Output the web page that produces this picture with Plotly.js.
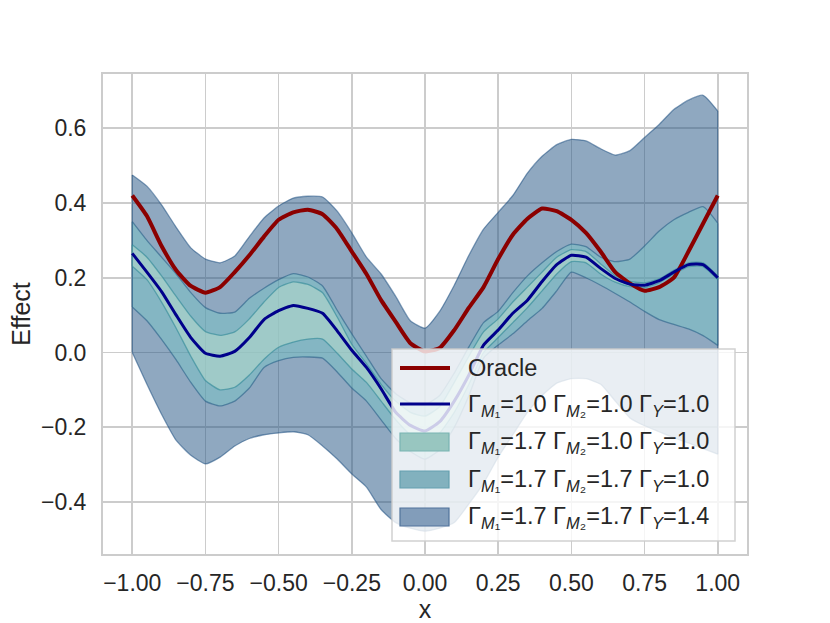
<!DOCTYPE html>
<html>
<head>
<meta charset="utf-8">
<script src="https://cdn.plot.ly/plotly-3.0.1.min.js"></script>
<style>
  html, body { margin: 0; padding: 0; background: #fff; }
  #chart { width: 830px; height: 623px; }
</style>
</head>
<body>
<div id="chart"></div>
<script>
// x grid of the curves
const xs = [-1.00,-0.95,-0.90,-0.85,-0.80,-0.75,-0.70,-0.65,-0.60,-0.55,-0.50,-0.45,-0.40,-0.35,-0.30,-0.25,-0.20,-0.15,-0.10,-0.05,
  0.00,0.05,0.10,0.15,0.20,0.25,0.30,0.35,0.40,0.45,0.50,0.55,0.60,0.65,0.70,0.75,0.80,0.85,0.90,0.95,1.00];

const oracle = [0.42,0.365,0.285,0.22,0.178,0.16,0.175,0.215,0.26,0.31,0.355,0.375,0.382,0.37,0.33,0.27,0.21,0.14,0.082,0.025,
  0.003,0.012,0.06,0.12,0.175,0.25,0.315,0.358,0.385,0.378,0.355,0.32,0.27,0.215,0.185,0.165,0.175,0.20,0.27,0.345,0.42];

// Gamma_M1=1.0 Gamma_M2=1.0 Gamma_Y=1.0
const base = [0.265,0.215,0.163,0.10,0.04,-0.002,-0.01,0.003,0.04,0.088,0.112,0.126,0.118,0.105,0.058,0.006,-0.04,-0.097,-0.16,-0.195,
  -0.21,-0.185,-0.13,-0.06,0.02,0.06,0.105,0.14,0.19,0.235,0.26,0.255,0.225,0.198,0.183,0.18,0.192,0.215,0.235,0.235,0.20];

// Gamma_M1=1.7 Gamma_M2=1.0 Gamma_Y=1.0
const band1Upper = [0.288,0.255,0.205,0.15,0.097,0.056,0.046,0.055,0.09,0.135,0.174,0.189,0.182,0.16,0.095,0.022,-0.03,-0.085,-0.13,-0.16,
  -0.17,-0.145,-0.08,-0.01,0.055,0.09,0.135,0.175,0.215,0.255,0.275,0.27,0.237,0.205,0.19,0.186,0.197,0.22,0.24,0.24,0.205];
const band1Lower = [0.231,0.195,0.135,0.065,-0.01,-0.075,-0.10,-0.093,-0.06,-0.018,0.014,0.028,0.036,0.036,-0.002,-0.044,-0.08,-0.13,-0.18,-0.22,
  -0.235,-0.215,-0.16,-0.085,0.0,0.04,0.08,0.12,0.165,0.21,0.243,0.24,0.21,0.188,0.176,0.174,0.187,0.21,0.23,0.23,0.195];

// Gamma_M1=1.7 Gamma_M2=1.7 Gamma_Y=1.0
const band2Upper = [0.35,0.30,0.255,0.21,0.16,0.12,0.105,0.108,0.145,0.172,0.195,0.211,0.202,0.178,0.113,0.05,-0.01,-0.07,-0.11,-0.135,
  -0.14,-0.115,-0.055,0.015,0.08,0.11,0.16,0.205,0.24,0.27,0.29,0.283,0.255,0.243,0.25,0.285,0.325,0.355,0.375,0.39,0.346];
const band2Lower = [0.122,0.085,0.035,-0.02,-0.08,-0.13,-0.143,-0.13,-0.095,-0.04,-0.022,-0.013,-0.012,-0.015,-0.052,-0.095,-0.13,-0.18,-0.23,-0.265,
  -0.285,-0.26,-0.20,-0.115,-0.015,0.02,0.05,0.085,0.118,0.165,0.215,0.20,0.18,0.158,0.135,0.11,0.088,0.075,0.063,0.045,0.019];

// Gamma_M1=1.7 Gamma_M2=1.7 Gamma_Y=1.4
const band3Upper = [0.475,0.445,0.395,0.335,0.28,0.25,0.24,0.258,0.31,0.36,0.392,0.413,0.418,0.416,0.378,0.32,0.255,0.21,0.15,0.085,
  0.065,0.11,0.18,0.26,0.33,0.375,0.42,0.48,0.525,0.556,0.57,0.566,0.545,0.528,0.54,0.575,0.61,0.65,0.675,0.688,0.646];
const band3Lower = [0.0,-0.085,-0.165,-0.235,-0.275,-0.298,-0.28,-0.25,-0.23,-0.22,-0.215,-0.212,-0.22,-0.25,-0.285,-0.325,-0.36,-0.42,-0.455,-0.47,
  -0.478,-0.47,-0.455,-0.405,-0.35,-0.28,-0.22,-0.16,-0.115,-0.082,-0.07,-0.07,-0.085,-0.13,-0.175,-0.196,-0.212,-0.228,-0.242,-0.257,-0.272];

const xTicks = [-1.0,-0.75,-0.5,-0.25,0.0,0.25,0.5,0.75,1.0];
const yTicks = [-0.4,-0.2,0.0,0.2,0.4,0.6];

const legendLabels = [
  'Oracle',
  'Γ<sub><i>M</i>₁</sub>=1.0 Γ<sub><i>M</i>₂</sub>=1.0 Γ<sub><i>Y</i></sub>=1.0',
  'Γ<sub><i>M</i>₁</sub>=1.7 Γ<sub><i>M</i>₂</sub>=1.0 Γ<sub><i>Y</i></sub>=1.0',
  'Γ<sub><i>M</i>₁</sub>=1.7 Γ<sub><i>M</i>₂</sub>=1.7 Γ<sub><i>Y</i></sub>=1.0',
  'Γ<sub><i>M</i>₁</sub>=1.7 Γ<sub><i>M</i>₂</sub>=1.7 Γ<sub><i>Y</i></sub>=1.4'
];

const RED = '#8b0000';
const BLUE = '#00008b';
const FONT = '"Liberation Sans", Arial, sans-serif';
const TEXT = '#262626';
const SMOOTH = 0.5;

// lower edge, then upper edge filled down to it
function band(lower, upper, fill, edge){
  const ln = {color: edge, width: 1.3, shape: 'spline', smoothing: SMOOTH};
  return [
    {x: xs, y: lower, type: 'scatter', mode: 'lines', line: ln, hoverinfo: 'skip', showlegend: false},
    {x: xs, y: upper, type: 'scatter', mode: 'lines', line: ln, fill: 'tonexty', fillcolor: fill,
     hoverinfo: 'skip', showlegend: false},
    // closing edges at both ends
    {x: [xs[0], xs[0], null, xs[xs.length - 1], xs[xs.length - 1]],
     y: [lower[0], upper[0], null, lower[lower.length - 1], upper[upper.length - 1]],
     type: 'scatter', mode: 'lines', line: {color: edge, width: 1.3}, hoverinfo: 'skip', showlegend: false}
  ];
}

const traces = [].concat(
  band(band3Lower, band3Upper, 'rgba(31,81,129,0.5)', 'rgba(31,81,129,0.55)'),
  band(band2Lower, band2Upper, 'rgba(120,200,200,0.45)', 'rgba(40,95,135,0.6)'),
  band(band1Lower, band1Upper, 'rgba(185,222,205,0.5)', 'rgba(45,135,150,0.6)'),
  [
    {x: xs, y: oracle, type: 'scatter', mode: 'lines', line: {color: RED, width: 4, shape: 'spline', smoothing: SMOOTH}, showlegend: false},
    {x: xs, y: base, type: 'scatter', mode: 'lines', line: {color: BLUE, width: 3, shape: 'spline', smoothing: SMOOTH}, showlegend: false}
  ]
);

// plot area in pixels
const L = 103, T = 74, W = 644, H = 480;
const fx = px => (px - L) / W;
const fy = py => (T + H - py) / H;

// hand-built legend, matplotlib style
const shapes = [
  {type: 'rect', xref: 'paper', yref: 'paper', layer: 'above',
   x0: fx(392), x1: fx(735), y0: fy(541), y1: fy(349),
   fillcolor: 'rgba(255,255,255,0.8)', line: {color: 'rgba(204,204,204,0.9)', width: 1.5}},
  {type: 'line', xref: 'paper', yref: 'paper', layer: 'above',
   x0: fx(400), x1: fx(450), y0: fy(368), y1: fy(368), line: {color: RED, width: 4}},
  {type: 'line', xref: 'paper', yref: 'paper', layer: 'above',
   x0: fx(400), x1: fx(450), y0: fy(404), y1: fy(404), line: {color: BLUE, width: 3}},
  {type: 'rect', xref: 'paper', yref: 'paper', layer: 'above',
   x0: fx(400), x1: fx(449), y0: fy(451), y1: fy(433),
   fillcolor: 'rgb(152,198,192)', line: {color: 'rgb(120,180,178)', width: 1.2}},
  {type: 'rect', xref: 'paper', yref: 'paper', layer: 'above',
   x0: fx(400), x1: fx(449), y0: fy(488), y1: fy(471),
   fillcolor: 'rgb(130,177,190)', line: {color: 'rgb(100,160,175)', width: 1.2}},
  {type: 'rect', xref: 'paper', yref: 'paper', layer: 'above',
   x0: fx(400), x1: fx(449), y0: fy(526), y1: fy(508),
   fillcolor: 'rgb(130,157,186)', line: {color: 'rgb(80,115,155)', width: 1.2}}
];

const rowY = [368, 405, 442, 480, 517];
const annotations = legendLabels.map((t, i) => ({
  text: t, xref: 'paper', yref: 'paper',
  x: fx(466), y: fy(rowY[i]), xanchor: 'left', yanchor: 'middle',
  showarrow: false, font: {family: FONT, size: 23.5, color: TEXT}
}));

const layout = {
  width: 830, height: 623,
  margin: {l: L, r: 830 - L - W, t: T, b: 623 - T - H, pad: 0},
  paper_bgcolor: '#fff', plot_bgcolor: '#fff',
  font: {family: FONT, size: 23, color: TEXT},
  showlegend: false,
  xaxis: {
    range: [-1.1, 1.1], tickvals: xTicks, tickformat: '.2f',
    showgrid: true, gridcolor: '#cccccc', gridwidth: 1.6,
    zeroline: false, showline: true, mirror: true, linecolor: '#cccccc', linewidth: 2,
    ticks: '', ticklabelstandoff: 7,
    tickfont: {family: FONT, size: 23, color: TEXT},
    title: {text: 'x', font: {family: FONT, size: 25, color: TEXT}, standoff: 3}
  },
  yaxis: {
    range: [-0.539, 0.745], tickvals: yTicks, tickformat: '.1f',
    showgrid: true, gridcolor: '#cccccc', gridwidth: 1.6,
    zeroline: false, showline: true, mirror: true, linecolor: '#cccccc', linewidth: 2,
    ticks: '', ticklabelstandoff: 10,
    tickfont: {family: FONT, size: 23, color: TEXT},
    title: {text: 'Effect', font: {family: FONT, size: 25, color: TEXT}, standoff: 3}
  },
  shapes: shapes,
  annotations: annotations
};

Plotly.newPlot('chart', traces, layout, {displayModeBar: false, staticPlot: true});
</script>
</body>
</html>
